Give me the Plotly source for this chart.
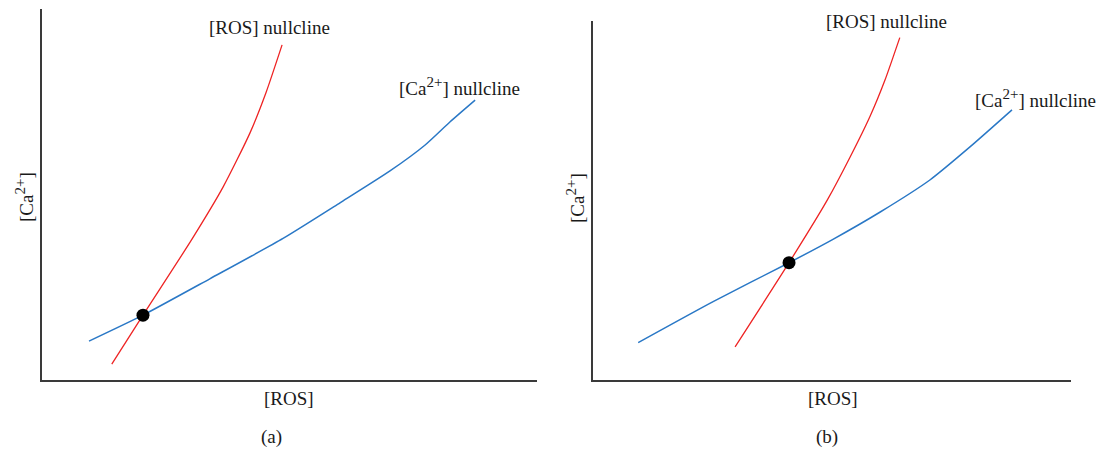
"""
Phase-plane sketch: [ROS] and [Ca2+] nullclines, panels (a) and (b)
"""
import plotly.graph_objects as go

W, H = 1100, 449

# panel (a), both axes run 0..10
ros_null_a_x = [1.41, 2.04, 3.03, 3.66, 4.20, 4.53, 4.85]
ros_null_a_y = [0.43, 1.75, 3.80, 5.21, 6.66, 7.77, 9.04]
ca_null_a_x = [0.95, 2.04, 3.39, 4.87, 6.02, 7.03, 7.74, 8.24, 8.75]
ca_null_a_y = [1.05, 1.75, 2.73, 3.82, 4.78, 5.64, 6.34, 6.96, 7.55]
fixed_a = (2.04, 1.75)

# panel (b)
ros_null_b_x = [2.97, 4.10, 4.90, 5.38, 5.80, 6.11, 6.42]
ros_null_b_y = [0.93, 3.27, 5.01, 6.21, 7.35, 8.35, 9.53]
ca_null_b_x = [0.94, 2.51, 4.10, 5.02, 6.01, 7.05, 7.89, 8.77]
ca_null_b_y = [1.05, 2.19, 3.27, 3.92, 4.68, 5.57, 6.49, 7.52]
fixed_b = (4.10, 3.27)

RED = "#ee2424"
BLUE = "#2a78c6"
FONT = "Liberation Serif"
FSIZE = 19


def px(x, y):
    """pixel position -> paper coords"""
    return x / W, 1 - y / H


fig = go.Figure()

panels = [
    ("x", "y", ros_null_a_x, ros_null_a_y, ca_null_a_x, ca_null_a_y, fixed_a),
    ("x2", "y2", ros_null_b_x, ros_null_b_y, ca_null_b_x, ca_null_b_y, fixed_b),
]
for xa, ya, rx, ry, cx, cy, fp in panels:
    fig.add_trace(go.Scatter(x=rx, y=ry, mode="lines", xaxis=xa, yaxis=ya,
                             line=dict(color=RED, width=1.3, shape="spline", smoothing=0.6)))
    fig.add_trace(go.Scatter(x=cx, y=cy, mode="lines", xaxis=xa, yaxis=ya,
                             line=dict(color=BLUE, width=1.5, shape="spline", smoothing=0.6)))
    fig.add_trace(go.Scatter(x=[fp[0]], y=[fp[1]], mode="markers", xaxis=xa, yaxis=ya,
                             marker=dict(color="black", size=13)))

axis_style = dict(range=[0, 10], showline=True, linecolor="#3a3a3a", linewidth=1.6,
                  showgrid=False, zeroline=False, showticklabels=False, ticks="",
                  fixedrange=True)

fig.update_layout(
    width=W, height=H,
    margin=dict(l=0, r=0, t=0, b=0),
    paper_bgcolor="white", plot_bgcolor="white",
    showlegend=False,
    font=dict(family=FONT, size=FSIZE, color="#1a1a1a"),
    xaxis=dict(domain=[42 / W, 537 / W], anchor="y", **axis_style),
    yaxis=dict(domain=[1 - 380 / H, 1 - 9.3 / H], anchor="x", **axis_style),
    xaxis2=dict(domain=[593.3 / W, 1070.7 / W], anchor="y2", **axis_style),
    yaxis2=dict(domain=[1 - 380.3 / H, 1 - 20.7 / H], anchor="x2", **axis_style),
)

ca_label = "[Ca<sup><span style='font-size:15px'>2+</span></sup>]"
notes = [
    # (text, pixel x, pixel y, angle)
    ("[ROS] nullcline", 269, 27, 0),
    (ca_label + " nullcline", 460, 86, 0),
    ("[ROS] nullcline", 886, 21, 0),
    (ca_label + " nullcline", 1035, 99, 0),
    ("[ROS]", 289, 398, 0),
    ("[ROS]", 833, 398, 0),
    ("(a)", 271, 437, 0),
    ("(b)", 827, 437, 0),
    (ca_label, 24, 197, -90),
    (ca_label, 576, 198, -90),
]
for text, x, y, ang in notes:
    ax, ay = px(x, y)
    fig.add_annotation(text=text, x=ax, y=ay, xref="paper", yref="paper",
                       xanchor="center", yanchor="middle", showarrow=False,
                       textangle=ang, font=dict(family=FONT, size=FSIZE, color="#1a1a1a"))

# page body margin would push the figure off the 1100x449 window
fig.write_html("out.html", config={"displayModeBar": False},
               post_script="document.body.style.margin='0';")
